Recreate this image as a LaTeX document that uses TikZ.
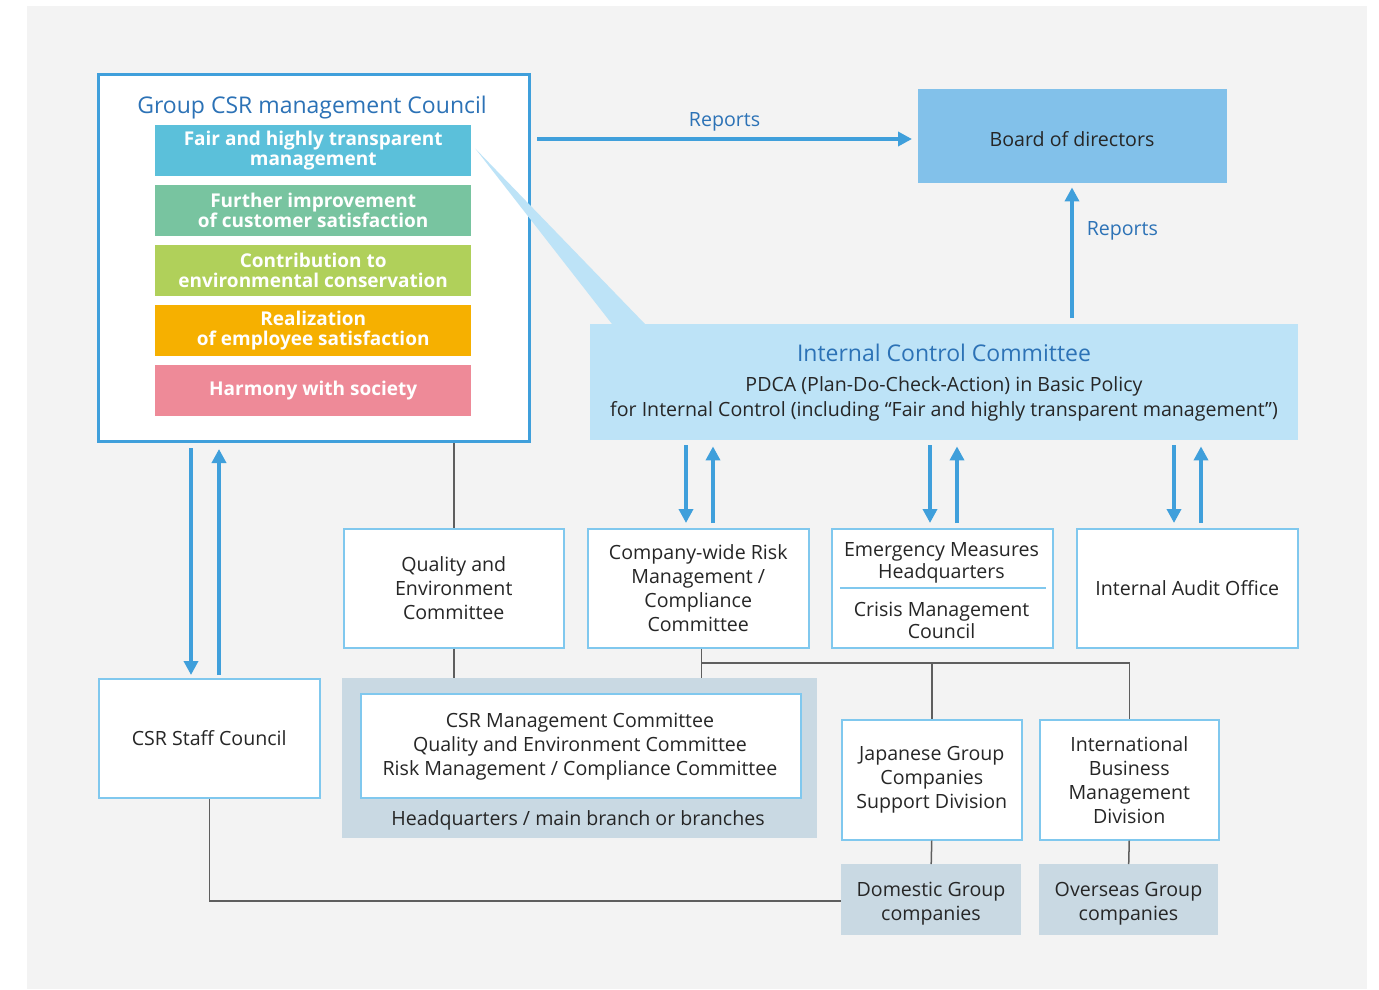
\documentclass[tikz,border=0pt]{standalone}
\usepackage{fontspec}
\setmainfont{Open Sans}
\usetikzlibrary{arrows.meta,calc}

\definecolor{bg}{HTML}{F3F3F3}
\definecolor{frameblue}{HTML}{3F9FDB}
\definecolor{edgeblue}{HTML}{80C8EE}
\definecolor{titleblue}{HTML}{2C72B6}
\definecolor{boardfill}{HTML}{82C1EA}
\definecolor{iccfill}{HTML}{BDE3F7}
\definecolor{hqfill}{HTML}{C9D9E3}
\definecolor{lineg}{HTML}{5E5E5E}
\definecolor{cCyan}{HTML}{5BC0DA}
\definecolor{cGreen}{HTML}{78C4A0}
\definecolor{cLime}{HTML}{B0D05A}
\definecolor{cOrange}{HTML}{F6B000}
\definecolor{cPink}{HTML}{EE8A98}
\definecolor{txt}{HTML}{262626}

\newcommand\bodyfont{\fontsize{19.6}{24}\selectfont}
\newcommand\tightfont{\fontsize{19.6}{22}\selectfont}
\newcommand\wideleadfont{\fontsize{19.6}{25}\selectfont}
\newcommand\titlefont{\fontsize{23}{27}\selectfont}
\newcommand\pillarfont{\fontsize{19}{20}\selectfont\bfseries}

\tikzset{
  wbox/.style={draw=edgeblue, line width=1.5pt, fill=white, inner sep=0pt,
    anchor=north west, align=center, text=txt, font=\bodyfont},
  shade box/.style={fill=hqfill, anchor=north west, inner sep=0pt},
  pillar/.style={anchor=north west, inner sep=0pt, minimum width=316pt,
    minimum height=51pt, align=center, text=white, font=\pillarfont},
  txtnode/.style={inner sep=0pt, align=center, text=txt, font=\bodyfont},
  arr/.style={draw=frameblue, line width=3.5pt,
    -{Triangle[width=14pt,length=14pt]}},
  gline/.style={draw=lineg, line width=1.5pt},
}

\begin{document}
\begin{tikzpicture}[x=1pt,y=-1pt]
\useasboundingbox (0,0) rectangle (1379,989);
\fill[bg] (27,6) rectangle (1367,989);

% guide coordinates
\coordinate (xa) at (191,0);
\coordinate (xb) at (219,0);
\coordinate (x1) at (686,0);
\coordinate (x2) at (713,0);
\coordinate (x3) at (930,0);
\coordinate (x4) at (957,0);
\coordinate (x5) at (1174,0);
\coordinate (x6) at (1201,0);
\coordinate (xr) at (1072,0);
\coordinate (yr) at (0,139);
\coordinate (bus) at (0,663);
\coordinate (dv) at (0,588);

% Group CSR management Council
\node[draw=frameblue, line width=3pt, fill=white, anchor=north west,
  minimum width=431pt, minimum height=367pt, inner sep=0pt] (council) at (97,73) {};
\node[text=titleblue, font=\titlefont, inner sep=0pt] (ctitle) at (312,108) {Group CSR management Council};
\node[pillar, fill=cCyan] (p1) at (155,125) {Fair and highly transparent\\management};
\node[pillar, fill=cGreen] (p2) at (155,185) {Further improvement\\of customer satisfaction};
\node[pillar, fill=cLime] (p3) at (155,245) {Contribution to\\environmental conservation};
\node[pillar, fill=cOrange] (p4) at (155,305) {Realization\\of employee satisfaction};
\node[pillar, fill=cPink] (p5) at (155,365) {Harmony with society};

% Board of directors
\node[fill=boardfill, anchor=north west, minimum width=309pt, minimum height=94pt,
  inner sep=0pt] (board) at (918,89) {};
\node[txtnode] (boardtx) at (1072,139) {Board of directors};

% Internal Control Committee
\node[fill=iccfill, anchor=north west, minimum width=708pt, minimum height=116pt,
  inner sep=0pt] (icc) at (590,324) {};
\node[text=titleblue, font=\titlefont, inner sep=0pt] (ictitle) at (944,353) {Internal Control Committee};
\node[txtnode, font=\wideleadfont] (ictext) at (944,399) {PDCA (Plan-Do-Check-Action) in Basic Policy\\for Internal Control (including “Fair and highly transparent management”)};

% link from the first pillar to the committee
\fill[iccfill] ($(p1.east)+(4,-2)$) -- (645,324) -- (612,324) -- cycle;

% committees row
\node[wbox, minimum width=220pt, minimum height=119pt] (qe) at (343,528) {Quality and\\Environment\\Committee};
\node[wbox, minimum width=221pt, minimum height=119pt] (cw) at (587,528) {Company-wide Risk\\Management /\\Compliance\\Committee};
\node[wbox, minimum width=221pt, minimum height=119pt] (em) at (831,528) {};
\node[txtnode, font=\tightfont] (emtop) at (941.5,563) {Emergency Measures\\Headquarters};
\node[txtnode, font=\tightfont] (embot) at (941.5,620) {Crisis Management\\Council};
\draw[edgeblue, line width=1.5pt] ($(em.west |- dv)+(9,0)$) -- ($(em.east |- dv)+(-8,0)$);
\node[wbox, minimum width=221pt, minimum height=119pt] (audit) at (1076,528) {Internal Audit Office};

% lower row
\node[wbox, minimum width=221pt, minimum height=119pt] (staff) at (98,678) {CSR Staff Council};
\node[shade box, minimum width=475pt, minimum height=160pt] (hq) at (342,678) {};
\node[wbox, minimum width=440pt, minimum height=104pt] (hqin) at (360,693) {};
\node[txtnode] (hqintx) at (580,747) {CSR Management Committee\\Quality and Environment Committee\\Risk Management / Compliance Committee};
\node[txtnode] (hqcap) at (578,820) {Headquarters / main branch or branches};
\node[wbox, minimum width=180pt, minimum height=120pt] (jp) at (841,719) {Japanese Group\\Companies\\Support Division};
\node[wbox, minimum width=179pt, minimum height=120pt] (intl) at (1039,719) {International\\Business\\Management\\Division};
\node[shade box, minimum width=180pt, minimum height=71pt] (dom) at (841,864) {};
\node[txtnode] (domtx) at (931,903.5) {Domestic Group\\companies};
\node[shade box, minimum width=179pt, minimum height=71pt] (ovs) at (1039,864) {};
\node[txtnode] (ovstx) at (1128.5,903.5) {Overseas Group\\companies};

% reporting arrows
\draw[arr, shorten <=6pt, shorten >=6pt] (council.east |- yr) -- node[above=6pt, text=titleblue, font=\bodyfont, inner sep=0pt] {Reports} (board.west |- yr);
\draw[arr, shorten <=6pt, shorten >=4pt] (icc.north -| xr) -- node[right=13pt, text=titleblue, font=\bodyfont, inner sep=0pt, pos=0.66] {Reports} (board.south -| xr);

% two-way arrows
\draw[arr, shorten <=5pt, shorten >=3pt] (council.south -| xa) -- (staff.north -| xa);
\draw[arr, shorten <=3pt, shorten >=6pt] (staff.north -| xb) -- (council.south -| xb);
\draw[arr, shorten <=5pt, shorten >=5pt] (icc.south -| x1) -- (cw.north -| x1);
\draw[arr, shorten <=5pt, shorten >=6pt] (cw.north -| x2) -- (icc.south -| x2);
\draw[arr, shorten <=5pt, shorten >=5pt] (icc.south -| x3) -- (em.north -| x3);
\draw[arr, shorten <=5pt, shorten >=6pt] (em.north -| x4) -- (icc.south -| x4);
\draw[arr, shorten <=5pt, shorten >=5pt] (icc.south -| x5) -- (audit.north -| x5);
\draw[arr, shorten <=5pt, shorten >=6pt] (audit.north -| x6) -- (icc.south -| x6);

% organisational lines
\draw[gline] (qe.north |- council.south) -- (qe.north);
\draw[gline] (qe.south) -- (qe.south |- hq.north);
\draw[gline] ([xshift=3pt]cw.south) -- ([xshift=3pt]cw.south |- hq.north);
\draw[gline] ([xshift=3pt]cw.south |- bus) -- (bus -| intl.north) -- (intl.north);
\draw[gline] (jp.north |- bus) -- (jp.north);
\draw[gline] (jp.south) -- (dom.north);
\draw[gline] (intl.south) -- (ovs.north);
\draw[gline] (staff.south) -- ([yshift=-1.5pt]staff.south |- dom.west) -- ([yshift=-1.5pt]dom.west);
\end{tikzpicture}
\end{document}
